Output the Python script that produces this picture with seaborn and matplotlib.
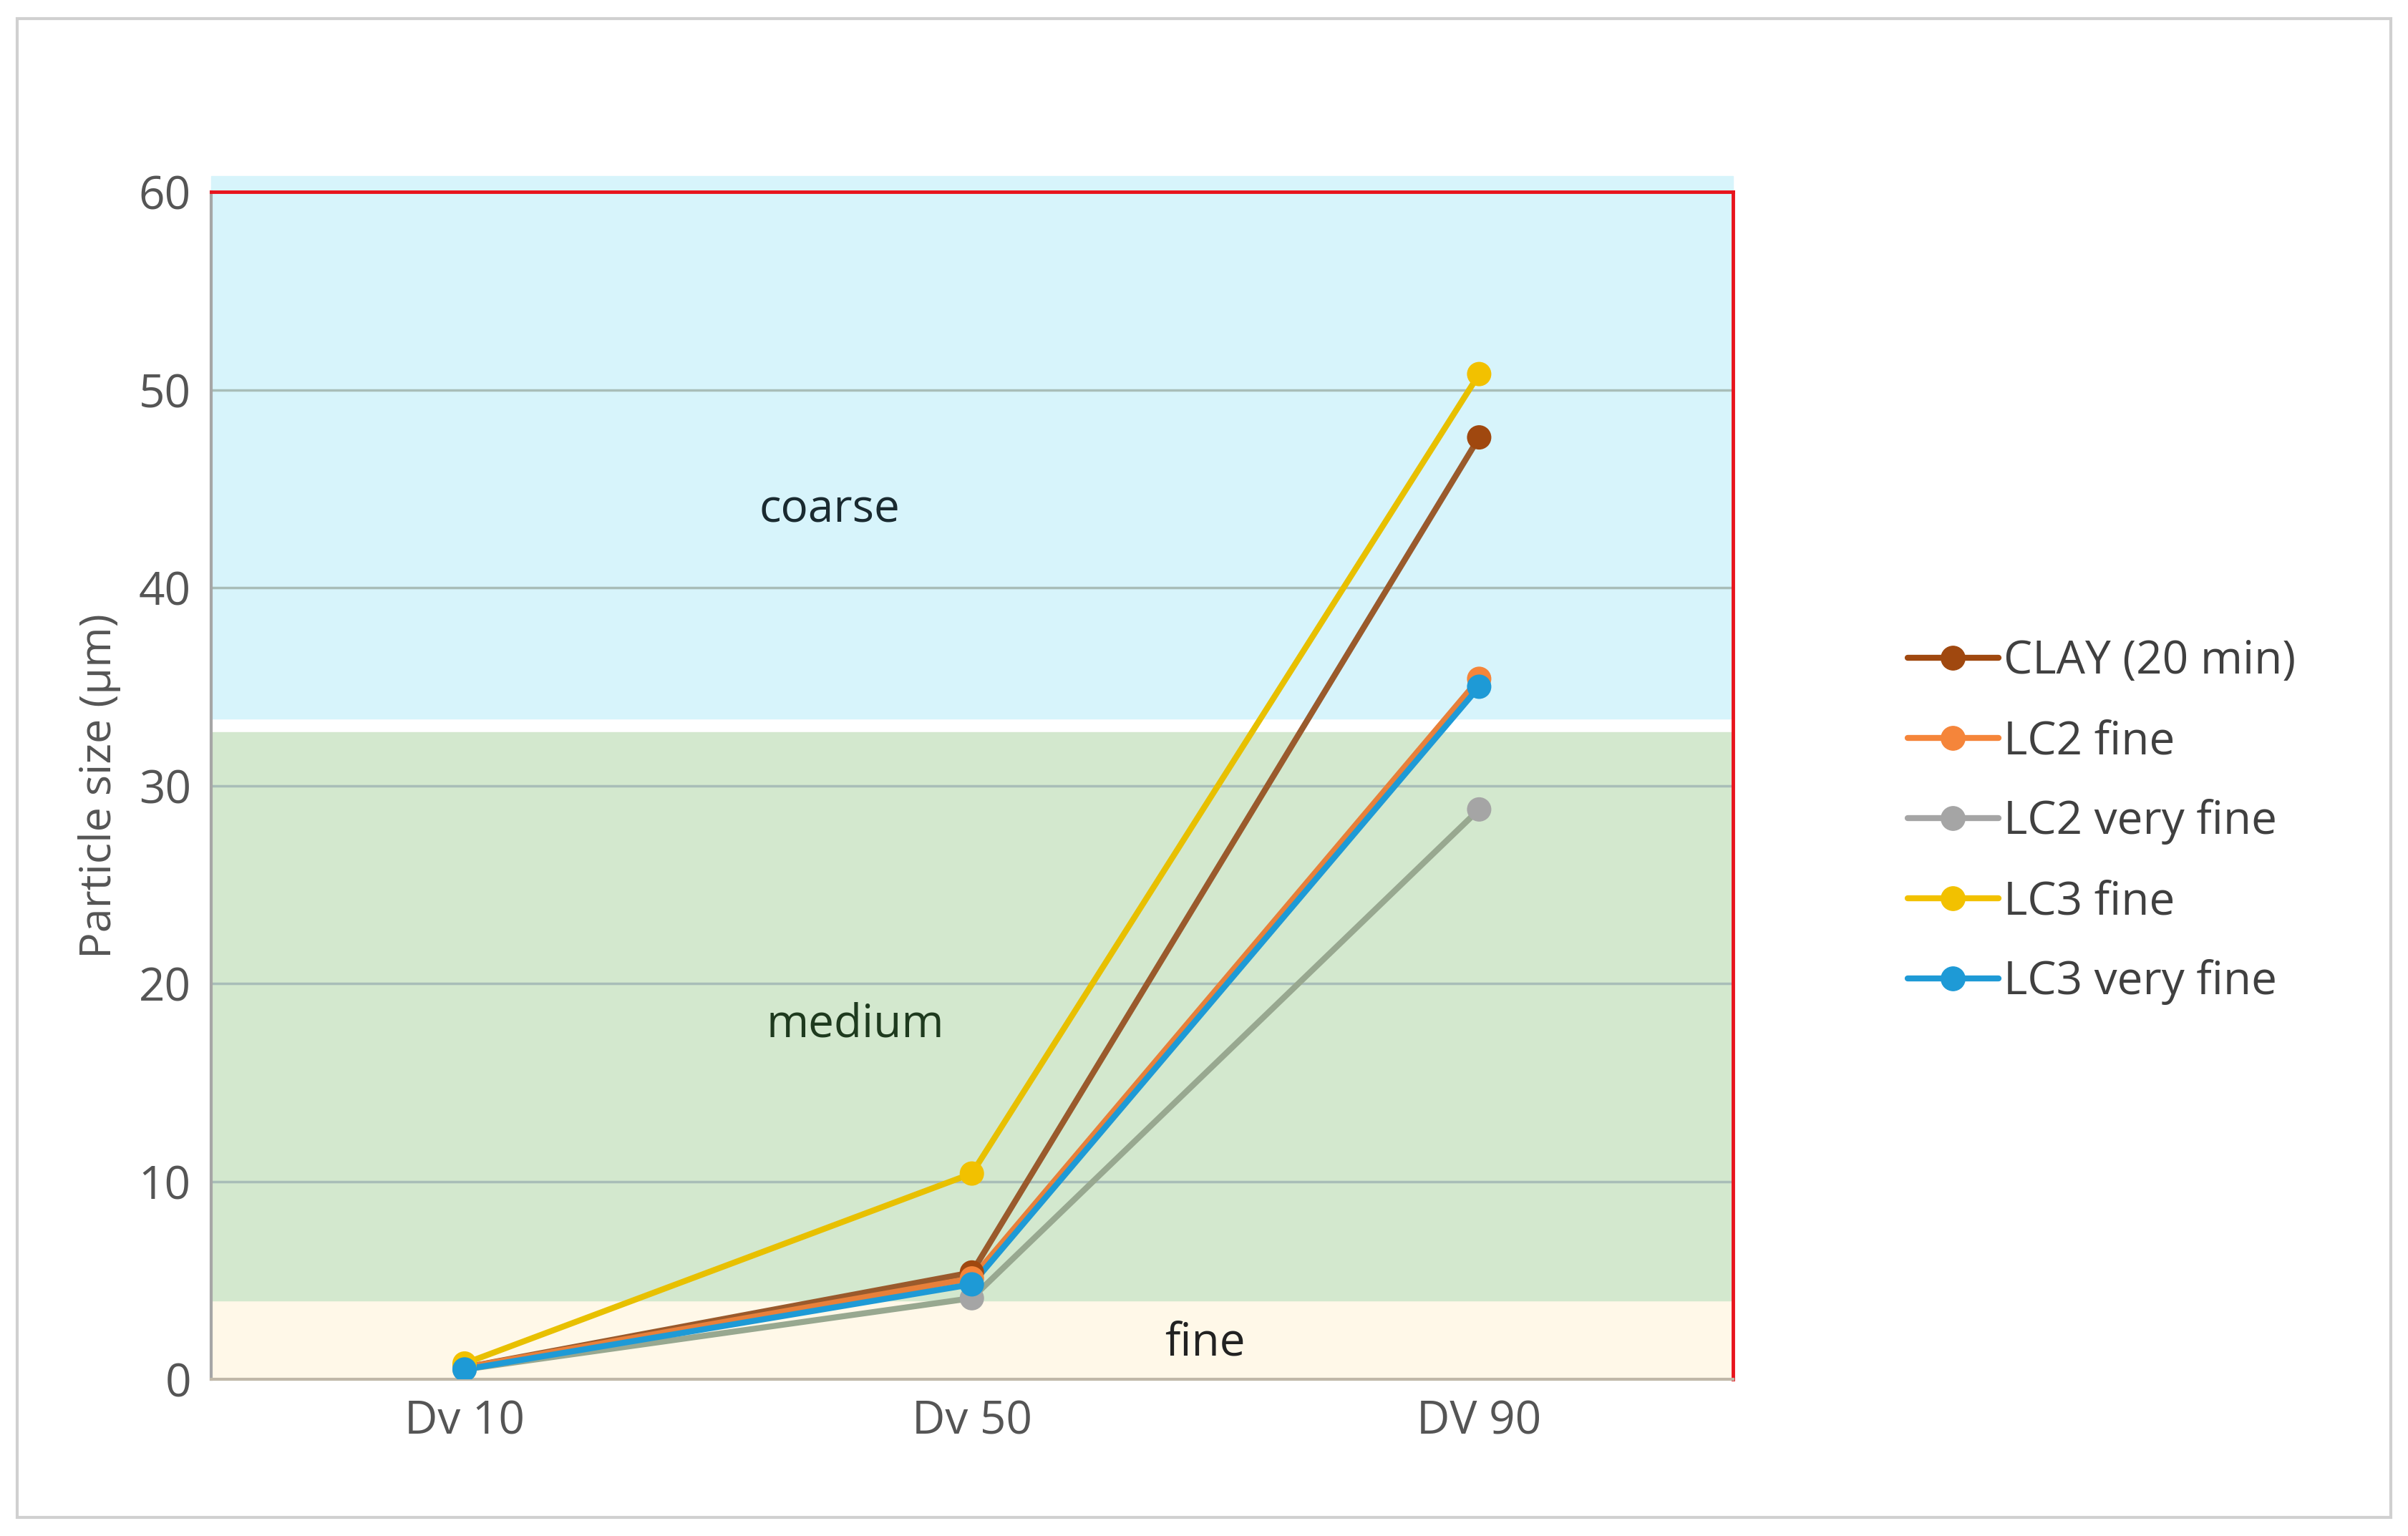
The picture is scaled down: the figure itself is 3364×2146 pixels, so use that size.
import matplotlib
matplotlib.use("Agg")
import matplotlib.pyplot as plt
import seaborn as sns
import pandas as pd
from matplotlib.patches import Rectangle
from matplotlib.lines import Line2D

categories = ["Dv 10", "Dv 50", "DV 90"]
series = ["CLAY (20 min)", "LC2 fine", "LC2 very fine", "LC3 fine", "LC3 very fine"]
clay = [0.6, 5.4, 47.6]
lc2_fine = [0.6, 5.1, 35.4]
lc2_vfine = [0.5, 4.1, 28.8]
lc3_fine = [0.8, 10.4, 50.8]
lc3_vfine = [0.5, 4.8, 35.0]
colors = ["#A0480F", "#F5853A", "#A5A5A5", "#F2C100", "#1E9AD6"]
line_colors = ["#9A5A2C", "#E8803A", "#98A890", "#E8C000", "#1E9AD6"]

vals = [clay, lc2_fine, lc2_vfine, lc3_fine, lc3_vfine]
rows = []
for s, v in zip(series, vals):
    for i, c in enumerate(categories):
        rows.append({"series": s, "x": i, "cat": c, "y": v[i]})
df = pd.DataFrame(rows)

sns.set_theme(style="white")
plt.rcParams['font.family'] = ['Open Sans', 'DejaVu Sans']
fig = plt.figure(figsize=(33.64, 21.46), dpi=100)
ax = fig.add_axes([0.0876, 0.102, 0.632, 0.773])
ax.set_xlim(-0.5, 2.5)
ax.set_ylim(0, 60)

ax.axhspan(0, 4, color="#FFF8E8", zorder=0)
ax.axhspan(4, 32.7, color="#D3E8CE", zorder=0)
ax.axhspan(33.4, 60.8, color="#D7F4FB", zorder=0, clip_on=False)
for yv in [10, 20, 30, 40, 50]:
    ax.axhline(yv, color="#A8BDB8", lw=2.5, zorder=1)

sns.lineplot(data=df, x="x", y="y", hue="series", palette=dict(zip(series, line_colors)),
             lw=6, legend=False, ax=ax, zorder=3)
for s, c in zip(series, colors):
    d = df[df.series == s]
    ax.scatter(d.x, d.y, s=600, color=c, zorder=4, edgecolor="none")

handles = [Line2D([0], [0], color=c, lw=6, marker="o", markersize=24) for c in colors]
fig.legend(handles, series, loc="center left", bbox_to_anchor=(0.775, 0.465), frameon=False,
           fontsize=46, labelcolor="#404040", handlelength=2.0, labelspacing=0.75, handletextpad=0.1)

ax.text(0.72, 43.3, "coarse", fontsize=46, color="#1A2A30", ha="center")
ax.text(0.77, 17.3, "medium", fontsize=46, color="#1E3A1E", ha="center")
ax.text(1.46, 1.2, "fine", fontsize=46, color="#222222", ha="center")

ax.set_xticks(range(3))
ax.set_xticklabels(categories)
ax.set_yticks(range(0, 61, 10))
ax.tick_params(axis="both", labelsize=46, colors="#555555", length=0, pad=20)
ax.set_xlabel("")
ax.set_ylabel("Particle size (µm)", fontsize=44, color="#555555", labelpad=18)
for sp in ["top", "right"]:
    ax.spines[sp].set_color("#E8141C"); ax.spines[sp].set_linewidth(3.5)
ax.spines["left"].set_color("#A6A6A6"); ax.spines["left"].set_linewidth(3)
ax.spines["bottom"].set_color("#C0B8A8"); ax.spines["bottom"].set_linewidth(3)

fig.patches.append(Rectangle((0.007, 0.012), 0.986, 0.976, transform=fig.transFigure,
                             fill=False, edgecolor="#D0D0D0", lw=3))
fig.savefig("out.png", dpi=100)
